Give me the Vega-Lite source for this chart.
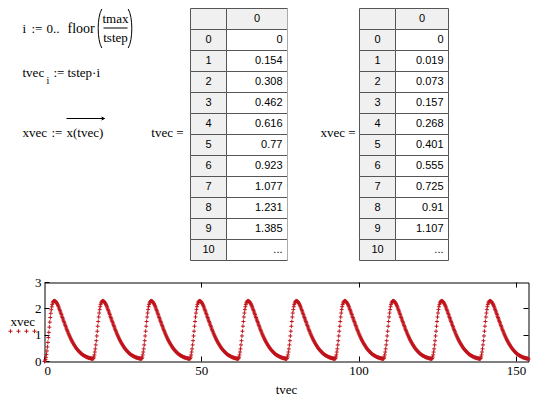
{
"$schema":"https://vega.github.io/schema/vega-lite/v6.json",
"background":"white",
"padding":{"left":0.5,"top":6.5,"right":0,"bottom":0},
"spacing":14,
"config":{"view":{"stroke":null,"fill":"white"},"axis":{"translate":0},"text":{"font":"Liberation Serif","fontSize":13,"color":"black","baseline":"middle"}},
"vconcat":[
{"hconcat":[
{
"width":190,"height":252,
"data":{"values":[{}]},
"layer":[
{"mark":{"type":"text","text":"i","align":"left"},"encoding":{"x":{"datum":22,"type":"quantitative","scale":{"domain":[0,190],"nice":false,"zero":false},"axis":null},"y":{"datum":20,"type":"quantitative","scale":{"domain":[252,0],"nice":false,"zero":false},"axis":null}}},
{"mark":{"type":"text","text":":=","align":"left"},"encoding":{"x":{"datum":31,"type":"quantitative","axis":null},"y":{"datum":20,"type":"quantitative","axis":null}}},
{"mark":{"type":"text","text":"0..","align":"left"},"encoding":{"x":{"datum":46,"type":"quantitative","axis":null},"y":{"datum":20,"type":"quantitative","axis":null}}},
{"mark":{"type":"text","text":"floor","align":"left","fontSize":14},"encoding":{"x":{"datum":67,"type":"quantitative","axis":null},"y":{"datum":20,"type":"quantitative","axis":null}}},
{"mark":{"type":"point","shape":"M0.12,-1C-0.13,-0.6,-0.13,0.6,0.12,1","filled":false,"size":1521,"stroke":"black","strokeWidth":1,"opacity":1},"encoding":{"x":{"datum":99,"type":"quantitative","axis":null},"y":{"datum":20,"type":"quantitative","axis":null}}},
{"mark":{"type":"text","text":"tmax","align":"center"},"encoding":{"x":{"datum":115,"type":"quantitative","axis":null},"y":{"datum":10,"type":"quantitative","axis":null}}},
{"mark":{"type":"rule","color":"black","strokeWidth":1},"encoding":{"x":{"datum":103,"type":"quantitative","axis":null},"x2":{"datum":127},"y":{"datum":19.5,"type":"quantitative","axis":null}}},
{"mark":{"type":"text","text":"tstep","align":"center"},"encoding":{"x":{"datum":115,"type":"quantitative","axis":null},"y":{"datum":29,"type":"quantitative","axis":null}}},
{"mark":{"type":"point","shape":"M-0.12,-1C0.13,-0.6,0.13,0.6,-0.12,1","filled":false,"size":1521,"stroke":"black","strokeWidth":1,"opacity":1},"encoding":{"x":{"datum":130,"type":"quantitative","axis":null},"y":{"datum":20,"type":"quantitative","axis":null}}},
{"mark":{"type":"text","text":"tvec","align":"left"},"encoding":{"x":{"datum":22,"type":"quantitative","axis":null},"y":{"datum":64,"type":"quantitative","axis":null}}},
{"mark":{"type":"text","text":"i","align":"left","fontSize":10},"encoding":{"x":{"datum":46,"type":"quantitative","axis":null},"y":{"datum":72,"type":"quantitative","axis":null}}},
{"mark":{"type":"text","text":":=","align":"left"},"encoding":{"x":{"datum":53,"type":"quantitative","axis":null},"y":{"datum":64,"type":"quantitative","axis":null}}},
{"mark":{"type":"text","text":"tstep·i","align":"left"},"encoding":{"x":{"datum":67,"type":"quantitative","axis":null},"y":{"datum":64,"type":"quantitative","axis":null}}},
{"mark":{"type":"text","text":"xvec","align":"left"},"encoding":{"x":{"datum":22,"type":"quantitative","axis":null},"y":{"datum":124,"type":"quantitative","axis":null}}},
{"mark":{"type":"text","text":":=","align":"left"},"encoding":{"x":{"datum":51,"type":"quantitative","axis":null},"y":{"datum":124,"type":"quantitative","axis":null}}},
{"mark":{"type":"text","text":"x(tvec)","align":"left"},"encoding":{"x":{"datum":66,"type":"quantitative","axis":null},"y":{"datum":124,"type":"quantitative","axis":null}}},
{"mark":{"type":"rule","color":"black","strokeWidth":1},"encoding":{"x":{"datum":66,"type":"quantitative","axis":null},"x2":{"datum":104},"y":{"datum":110,"type":"quantitative","axis":null}}},
{"mark":{"type":"point","shape":"M-1,-0.5L0,0L-1,0.5","filled":false,"size":36,"stroke":"black","strokeWidth":1,"opacity":1},"encoding":{"x":{"datum":104,"type":"quantitative","axis":null},"y":{"datum":110,"type":"quantitative","axis":null}}},
{"mark":{"type":"text","text":"tvec =","align":"right"},"encoding":{"x":{"datum":183,"type":"quantitative","axis":null},"y":{"datum":124,"type":"quantitative","axis":null}}}
]
},
{
"width":97,"height":252,
"data":{"values":[{"r":"h","i":"","v":"0"},{"r":"0","i":"0","v":"0"},{"r":"1","i":"1","v":"0.154"},{"r":"2","i":"2","v":"0.308"},{"r":"3","i":"3","v":"0.462"},{"r":"4","i":"4","v":"0.616"},{"r":"5","i":"5","v":"0.77"},{"r":"6","i":"6","v":"0.923"},{"r":"7","i":"7","v":"1.077"},{"r":"8","i":"8","v":"1.231"},{"r":"9","i":"9","v":"1.385"},{"r":"10","i":"10","v":"..."}]},
"encoding":{"y":{"field":"r","type":"ordinal","scale":{"type":"band","domain":["h","0","1","2","3","4","5","6","7","8","9","10"],"paddingInner":0,"paddingOuter":0},"axis":null}},
"layer":[
{"mark":{"type":"rect","fill":"#f0f0f0","stroke":"#555555","strokeWidth":1},"encoding":{"x":{"datum":0,"type":"quantitative","scale":{"domain":[0,97],"nice":false,"zero":false},"axis":null},"x2":{"datum":36}}},
{"mark":{"type":"rect","stroke":"#555555","strokeWidth":1},"encoding":{"x":{"datum":36,"type":"quantitative","axis":null},"x2":{"datum":97},"fill":{"condition":{"test":"datum.r==='h'","value":"#f0f0f0"},"value":"white"}}},
{"mark":{"type":"text","font":"Liberation Sans","fontSize":11,"align":"center"},"encoding":{"x":{"datum":18,"type":"quantitative","axis":null},"text":{"field":"i"}}},
{"transform":[{"filter":"datum.r==='h'"}],"mark":{"type":"text","font":"Liberation Sans","fontSize":11,"align":"center"},"encoding":{"x":{"datum":66.5,"type":"quantitative","axis":null},"text":{"field":"v"}}},
{"transform":[{"filter":"datum.r!=='h'"}],"mark":{"type":"text","font":"Liberation Sans","fontSize":11,"align":"right","dx":-5},"encoding":{"x":{"datum":97,"type":"quantitative","axis":null},"text":{"field":"v"}}}
]
},
{
"width":72,"height":252,
"data":{"values":[{}]},
"mark":{"type":"text","text":"xvec =","align":"right"},
"encoding":{"x":{"datum":68,"type":"quantitative","scale":{"domain":[0,72],"nice":false,"zero":false},"axis":null},"y":{"datum":124,"type":"quantitative","scale":{"domain":[252,0],"nice":false,"zero":false},"axis":null}}
},
{
"width":89,"height":252,
"data":{"values":[{"r":"h","i":"","v":"0"},{"r":"0","i":"0","v":"0"},{"r":"1","i":"1","v":"0.019"},{"r":"2","i":"2","v":"0.073"},{"r":"3","i":"3","v":"0.157"},{"r":"4","i":"4","v":"0.268"},{"r":"5","i":"5","v":"0.401"},{"r":"6","i":"6","v":"0.555"},{"r":"7","i":"7","v":"0.725"},{"r":"8","i":"8","v":"0.91"},{"r":"9","i":"9","v":"1.107"},{"r":"10","i":"10","v":"..."}]},
"encoding":{"y":{"field":"r","type":"ordinal","scale":{"type":"band","domain":["h","0","1","2","3","4","5","6","7","8","9","10"],"paddingInner":0,"paddingOuter":0},"axis":null}},
"layer":[
{"mark":{"type":"rect","fill":"#f0f0f0","stroke":"#555555","strokeWidth":1},"encoding":{"x":{"datum":0,"type":"quantitative","scale":{"domain":[0,89],"nice":false,"zero":false},"axis":null},"x2":{"datum":36}}},
{"mark":{"type":"rect","stroke":"#555555","strokeWidth":1},"encoding":{"x":{"datum":36,"type":"quantitative","axis":null},"x2":{"datum":89},"fill":{"condition":{"test":"datum.r==='h'","value":"#f0f0f0"},"value":"white"}}},
{"mark":{"type":"text","font":"Liberation Sans","fontSize":11,"align":"center"},"encoding":{"x":{"datum":18,"type":"quantitative","axis":null},"text":{"field":"i"}}},
{"transform":[{"filter":"datum.r==='h'"}],"mark":{"type":"text","font":"Liberation Sans","fontSize":11,"align":"center"},"encoding":{"x":{"datum":62.5,"type":"quantitative","axis":null},"text":{"field":"v"}}},
{"transform":[{"filter":"datum.r!=='h'"}],"mark":{"type":"text","font":"Liberation Sans","fontSize":11,"align":"right","dx":-5},"encoding":{"x":{"datum":89,"type":"quantitative","axis":null},"text":{"field":"v"}}}
]
}
],"spacing":0,"bounds":"flush"},
{"hconcat":[
{
"width":44,"height":79,
"layer":[
{"data":{"values":[{"s":"xvec"}]},"mark":{"type":"text","align":"left"},"encoding":{"x":{"datum":1,"type":"quantitative","scale":{"domain":[-0.25,5.25],"nice":false,"zero":false},"axis":null},"y":{"datum":1.5,"type":"quantitative","scale":{"domain":[0,3],"nice":false,"zero":false},"axis":null},"text":{"field":"s"}}},
{"data":{"values":[{"k":1},{"k":2},{"k":3},{"k":4}]},"mark":{"type":"point","shape":"M-1,0H1M0,-1V1","filled":false,"size":16,"stroke":"#c0141c","strokeWidth":1,"opacity":1},"encoding":{"x":{"field":"k","type":"quantitative","axis":null},"y":{"datum":1.15,"type":"quantitative","axis":null}}}
]
},
{
"width":484,"height":79,
"view":{"stroke":"black","strokeWidth":1,"fill":"white"},
"data":{"values":[
{"t":0,"x":0},{"t":0.15,"x":0.019},{"t":0.31,"x":0.073},{"t":0.46,"x":0.157},{"t":0.62,"x":0.268},{"t":0.77,"x":0.401},{"t":0.92,"x":0.555},{"t":1.08,"x":0.725},{"t":1.23,"x":0.91},{"t":1.38,"x":1.107},
{"t":1.54,"x":1.305},{"t":1.69,"x":1.495},{"t":1.85,"x":1.67},{"t":2,"x":1.83},{"t":2.15,"x":1.965},{"t":2.31,"x":2.075},{"t":2.46,"x":2.16},{"t":2.62,"x":2.225},{"t":2.77,"x":2.27},{"t":2.92,"x":2.295},
{"t":3.08,"x":2.305},{"t":3.23,"x":2.3},{"t":3.38,"x":2.29},{"t":3.54,"x":2.28},{"t":3.69,"x":2.26},{"t":3.85,"x":2.23},{"t":4,"x":2.2},{"t":4.15,"x":2.16},{"t":4.31,"x":2.12},{"t":4.46,"x":2.08},
{"t":4.62,"x":2.03},{"t":4.77,"x":1.98},{"t":4.92,"x":1.93},{"t":5.08,"x":1.88},{"t":5.23,"x":1.83},{"t":5.38,"x":1.78},{"t":5.54,"x":1.72},{"t":5.69,"x":1.67},{"t":5.85,"x":1.62},{"t":6,"x":1.57},
{"t":6.15,"x":1.52},{"t":6.31,"x":1.47},{"t":6.46,"x":1.42},{"t":6.62,"x":1.37},{"t":6.77,"x":1.32},{"t":6.92,"x":1.27},{"t":7.08,"x":1.22},{"t":7.23,"x":1.17},{"t":7.38,"x":1.13},{"t":7.54,"x":1.08},
{"t":7.69,"x":1.04},{"t":7.85,"x":1},{"t":8,"x":0.96},{"t":8.15,"x":0.92},{"t":8.31,"x":0.88},{"t":8.46,"x":0.84},{"t":8.62,"x":0.8},{"t":8.77,"x":0.77},{"t":8.92,"x":0.73},{"t":9.08,"x":0.7},
{"t":9.23,"x":0.67},{"t":9.38,"x":0.64},{"t":9.54,"x":0.61},{"t":9.69,"x":0.58},{"t":9.85,"x":0.55},{"t":10,"x":0.52},{"t":10.15,"x":0.5},{"t":10.31,"x":0.47},{"t":10.46,"x":0.45},{"t":10.62,"x":0.43},
{"t":10.77,"x":0.41},{"t":10.92,"x":0.39},{"t":11.08,"x":0.37},{"t":11.23,"x":0.35},{"t":11.38,"x":0.33},{"t":11.54,"x":0.31},{"t":11.69,"x":0.3},{"t":11.85,"x":0.28},{"t":12,"x":0.27},{"t":12.15,"x":0.25},
{"t":12.31,"x":0.24},{"t":12.46,"x":0.23},{"t":12.62,"x":0.22},{"t":12.77,"x":0.21},{"t":12.92,"x":0.2},{"t":13.08,"x":0.19},{"t":13.23,"x":0.18},{"t":13.38,"x":0.17},{"t":13.54,"x":0.16},{"t":13.69,"x":0.16},
{"t":13.85,"x":0.15},{"t":14,"x":0.14},{"t":14.15,"x":0.14},{"t":14.31,"x":0.13},{"t":14.46,"x":0.13},{"t":14.62,"x":0.12},{"t":14.77,"x":0.12},{"t":14.92,"x":0.11},{"t":15.08,"x":0.11},{"t":15.23,"x":0.1},
{"t":15.38,"x":0.1},{"t":15.54,"x":0.12},{"t":15.69,"x":0.17},{"t":15.85,"x":0.25},{"t":16,"x":0.36},{"t":16.15,"x":0.48},{"t":16.31,"x":0.63},{"t":16.46,"x":0.79},{"t":16.62,"x":0.97},{"t":16.77,"x":1.15},
{"t":16.92,"x":1.34},{"t":17.08,"x":1.52},{"t":17.23,"x":1.69},{"t":17.38,"x":1.84},{"t":17.54,"x":1.97},{"t":17.69,"x":2.08},{"t":17.85,"x":2.16},{"t":18,"x":2.22},{"t":18.15,"x":2.26},{"t":18.31,"x":2.29},
{"t":18.46,"x":2.3},{"t":18.62,"x":2.3},{"t":18.77,"x":2.29},{"t":18.92,"x":2.28},{"t":19.08,"x":2.26},{"t":19.23,"x":2.23},{"t":19.38,"x":2.2},{"t":19.54,"x":2.16},{"t":19.69,"x":2.12},{"t":19.85,"x":2.08},
{"t":20,"x":2.03},{"t":20.15,"x":1.98},{"t":20.31,"x":1.93},{"t":20.46,"x":1.88},{"t":20.62,"x":1.83},{"t":20.77,"x":1.78},{"t":20.92,"x":1.72},{"t":21.08,"x":1.67},{"t":21.23,"x":1.62},{"t":21.38,"x":1.57},
{"t":21.54,"x":1.52},{"t":21.69,"x":1.47},{"t":21.85,"x":1.42},{"t":22,"x":1.37},{"t":22.15,"x":1.32},{"t":22.31,"x":1.27},{"t":22.46,"x":1.22},{"t":22.62,"x":1.17},{"t":22.77,"x":1.13},{"t":22.92,"x":1.08},
{"t":23.08,"x":1.04},{"t":23.23,"x":1},{"t":23.38,"x":0.96},{"t":23.54,"x":0.92},{"t":23.69,"x":0.88},{"t":23.85,"x":0.84},{"t":24,"x":0.8},{"t":24.15,"x":0.77},{"t":24.31,"x":0.73},{"t":24.46,"x":0.7},
{"t":24.62,"x":0.67},{"t":24.77,"x":0.64},{"t":24.92,"x":0.61},{"t":25.08,"x":0.58},{"t":25.23,"x":0.55},{"t":25.38,"x":0.52},{"t":25.54,"x":0.5},{"t":25.69,"x":0.47},{"t":25.85,"x":0.45},{"t":26,"x":0.43},
{"t":26.15,"x":0.41},{"t":26.31,"x":0.39},{"t":26.46,"x":0.37},{"t":26.62,"x":0.35},{"t":26.77,"x":0.33},{"t":26.92,"x":0.31},{"t":27.08,"x":0.3},{"t":27.23,"x":0.28},{"t":27.38,"x":0.27},{"t":27.54,"x":0.25},
{"t":27.69,"x":0.24},{"t":27.85,"x":0.23},{"t":28,"x":0.22},{"t":28.15,"x":0.21},{"t":28.31,"x":0.2},{"t":28.46,"x":0.19},{"t":28.62,"x":0.18},{"t":28.77,"x":0.17},{"t":28.92,"x":0.16},{"t":29.08,"x":0.16},
{"t":29.23,"x":0.15},{"t":29.38,"x":0.14},{"t":29.54,"x":0.14},{"t":29.69,"x":0.13},{"t":29.85,"x":0.13},{"t":30,"x":0.12},{"t":30.15,"x":0.12},{"t":30.31,"x":0.11},{"t":30.46,"x":0.11},{"t":30.62,"x":0.1},
{"t":30.77,"x":0.1},{"t":30.92,"x":0.12},{"t":31.08,"x":0.17},{"t":31.23,"x":0.25},{"t":31.38,"x":0.36},{"t":31.54,"x":0.48},{"t":31.69,"x":0.63},{"t":31.85,"x":0.79},{"t":32,"x":0.97},{"t":32.15,"x":1.15},
{"t":32.31,"x":1.34},{"t":32.46,"x":1.52},{"t":32.62,"x":1.69},{"t":32.77,"x":1.84},{"t":32.92,"x":1.97},{"t":33.08,"x":2.08},{"t":33.23,"x":2.16},{"t":33.38,"x":2.22},{"t":33.54,"x":2.26},{"t":33.69,"x":2.29},
{"t":33.85,"x":2.3},{"t":34,"x":2.3},{"t":34.15,"x":2.29},{"t":34.31,"x":2.28},{"t":34.46,"x":2.26},{"t":34.62,"x":2.23},{"t":34.77,"x":2.2},{"t":34.92,"x":2.16},{"t":35.08,"x":2.12},{"t":35.23,"x":2.08},
{"t":35.38,"x":2.03},{"t":35.54,"x":1.98},{"t":35.69,"x":1.93},{"t":35.85,"x":1.88},{"t":36,"x":1.83},{"t":36.15,"x":1.78},{"t":36.31,"x":1.72},{"t":36.46,"x":1.67},{"t":36.62,"x":1.62},{"t":36.77,"x":1.57},
{"t":36.92,"x":1.52},{"t":37.08,"x":1.47},{"t":37.23,"x":1.42},{"t":37.38,"x":1.37},{"t":37.54,"x":1.32},{"t":37.69,"x":1.27},{"t":37.85,"x":1.22},{"t":38,"x":1.17},{"t":38.15,"x":1.13},{"t":38.31,"x":1.08},
{"t":38.46,"x":1.04},{"t":38.62,"x":1},{"t":38.77,"x":0.96},{"t":38.92,"x":0.92},{"t":39.08,"x":0.88},{"t":39.23,"x":0.84},{"t":39.38,"x":0.8},{"t":39.54,"x":0.77},{"t":39.69,"x":0.73},{"t":39.85,"x":0.7},
{"t":40,"x":0.67},{"t":40.15,"x":0.64},{"t":40.31,"x":0.61},{"t":40.46,"x":0.58},{"t":40.62,"x":0.55},{"t":40.77,"x":0.52},{"t":40.92,"x":0.5},{"t":41.08,"x":0.47},{"t":41.23,"x":0.45},{"t":41.38,"x":0.43},
{"t":41.54,"x":0.41},{"t":41.69,"x":0.39},{"t":41.85,"x":0.37},{"t":42,"x":0.35},{"t":42.15,"x":0.33},{"t":42.31,"x":0.31},{"t":42.46,"x":0.3},{"t":42.62,"x":0.28},{"t":42.77,"x":0.27},{"t":42.92,"x":0.25},
{"t":43.08,"x":0.24},{"t":43.23,"x":0.23},{"t":43.38,"x":0.22},{"t":43.54,"x":0.21},{"t":43.69,"x":0.2},{"t":43.85,"x":0.19},{"t":44,"x":0.18},{"t":44.15,"x":0.17},{"t":44.31,"x":0.16},{"t":44.46,"x":0.16},
{"t":44.62,"x":0.15},{"t":44.77,"x":0.14},{"t":44.92,"x":0.14},{"t":45.08,"x":0.13},{"t":45.23,"x":0.13},{"t":45.38,"x":0.12},{"t":45.54,"x":0.12},{"t":45.69,"x":0.11},{"t":45.85,"x":0.11},{"t":46,"x":0.1},
{"t":46.15,"x":0.1},{"t":46.31,"x":0.12},{"t":46.46,"x":0.17},{"t":46.62,"x":0.25},{"t":46.77,"x":0.36},{"t":46.92,"x":0.48},{"t":47.08,"x":0.63},{"t":47.23,"x":0.79},{"t":47.38,"x":0.97},{"t":47.54,"x":1.15},
{"t":47.69,"x":1.34},{"t":47.85,"x":1.52},{"t":48,"x":1.69},{"t":48.15,"x":1.84},{"t":48.31,"x":1.97},{"t":48.46,"x":2.08},{"t":48.62,"x":2.16},{"t":48.77,"x":2.22},{"t":48.92,"x":2.26},{"t":49.08,"x":2.29},
{"t":49.23,"x":2.3},{"t":49.38,"x":2.3},{"t":49.54,"x":2.29},{"t":49.69,"x":2.28},{"t":49.85,"x":2.26},{"t":50,"x":2.23},{"t":50.15,"x":2.2},{"t":50.31,"x":2.16},{"t":50.46,"x":2.12},{"t":50.62,"x":2.08},
{"t":50.77,"x":2.03},{"t":50.92,"x":1.98},{"t":51.08,"x":1.93},{"t":51.23,"x":1.88},{"t":51.38,"x":1.83},{"t":51.54,"x":1.78},{"t":51.69,"x":1.72},{"t":51.85,"x":1.67},{"t":52,"x":1.62},{"t":52.15,"x":1.57},
{"t":52.31,"x":1.52},{"t":52.46,"x":1.47},{"t":52.62,"x":1.42},{"t":52.77,"x":1.37},{"t":52.92,"x":1.32},{"t":53.08,"x":1.27},{"t":53.23,"x":1.22},{"t":53.38,"x":1.17},{"t":53.54,"x":1.13},{"t":53.69,"x":1.08},
{"t":53.85,"x":1.04},{"t":54,"x":1},{"t":54.15,"x":0.96},{"t":54.31,"x":0.92},{"t":54.46,"x":0.88},{"t":54.62,"x":0.84},{"t":54.77,"x":0.8},{"t":54.92,"x":0.77},{"t":55.08,"x":0.73},{"t":55.23,"x":0.7},
{"t":55.38,"x":0.67},{"t":55.54,"x":0.64},{"t":55.69,"x":0.61},{"t":55.85,"x":0.58},{"t":56,"x":0.55},{"t":56.15,"x":0.52},{"t":56.31,"x":0.5},{"t":56.46,"x":0.47},{"t":56.62,"x":0.45},{"t":56.77,"x":0.43},
{"t":56.92,"x":0.41},{"t":57.08,"x":0.39},{"t":57.23,"x":0.37},{"t":57.38,"x":0.35},{"t":57.54,"x":0.33},{"t":57.69,"x":0.31},{"t":57.85,"x":0.3},{"t":58,"x":0.28},{"t":58.15,"x":0.27},{"t":58.31,"x":0.25},
{"t":58.46,"x":0.24},{"t":58.62,"x":0.23},{"t":58.77,"x":0.22},{"t":58.92,"x":0.21},{"t":59.08,"x":0.2},{"t":59.23,"x":0.19},{"t":59.38,"x":0.18},{"t":59.54,"x":0.17},{"t":59.69,"x":0.16},{"t":59.85,"x":0.16},
{"t":60,"x":0.15},{"t":60.15,"x":0.14},{"t":60.31,"x":0.14},{"t":60.46,"x":0.13},{"t":60.62,"x":0.13},{"t":60.77,"x":0.12},{"t":60.92,"x":0.12},{"t":61.08,"x":0.11},{"t":61.23,"x":0.11},{"t":61.38,"x":0.1},
{"t":61.54,"x":0.1},{"t":61.69,"x":0.12},{"t":61.85,"x":0.17},{"t":62,"x":0.25},{"t":62.15,"x":0.36},{"t":62.31,"x":0.48},{"t":62.46,"x":0.63},{"t":62.62,"x":0.79},{"t":62.77,"x":0.97},{"t":62.92,"x":1.15},
{"t":63.08,"x":1.34},{"t":63.23,"x":1.52},{"t":63.38,"x":1.69},{"t":63.54,"x":1.84},{"t":63.69,"x":1.97},{"t":63.85,"x":2.08},{"t":64,"x":2.16},{"t":64.15,"x":2.22},{"t":64.31,"x":2.26},{"t":64.46,"x":2.29},
{"t":64.62,"x":2.3},{"t":64.77,"x":2.3},{"t":64.92,"x":2.29},{"t":65.08,"x":2.28},{"t":65.23,"x":2.26},{"t":65.38,"x":2.23},{"t":65.54,"x":2.2},{"t":65.69,"x":2.16},{"t":65.85,"x":2.12},{"t":66,"x":2.08},
{"t":66.15,"x":2.03},{"t":66.31,"x":1.98},{"t":66.46,"x":1.93},{"t":66.62,"x":1.88},{"t":66.77,"x":1.83},{"t":66.92,"x":1.78},{"t":67.08,"x":1.72},{"t":67.23,"x":1.67},{"t":67.38,"x":1.62},{"t":67.54,"x":1.57},
{"t":67.69,"x":1.52},{"t":67.85,"x":1.47},{"t":68,"x":1.42},{"t":68.15,"x":1.37},{"t":68.31,"x":1.32},{"t":68.46,"x":1.27},{"t":68.62,"x":1.22},{"t":68.77,"x":1.17},{"t":68.92,"x":1.13},{"t":69.08,"x":1.08},
{"t":69.23,"x":1.04},{"t":69.38,"x":1},{"t":69.54,"x":0.96},{"t":69.69,"x":0.92},{"t":69.85,"x":0.88},{"t":70,"x":0.84},{"t":70.15,"x":0.8},{"t":70.31,"x":0.77},{"t":70.46,"x":0.73},{"t":70.62,"x":0.7},
{"t":70.77,"x":0.67},{"t":70.92,"x":0.64},{"t":71.08,"x":0.61},{"t":71.23,"x":0.58},{"t":71.38,"x":0.55},{"t":71.54,"x":0.52},{"t":71.69,"x":0.5},{"t":71.85,"x":0.47},{"t":72,"x":0.45},{"t":72.15,"x":0.43},
{"t":72.31,"x":0.41},{"t":72.46,"x":0.39},{"t":72.62,"x":0.37},{"t":72.77,"x":0.35},{"t":72.92,"x":0.33},{"t":73.08,"x":0.31},{"t":73.23,"x":0.3},{"t":73.38,"x":0.28},{"t":73.54,"x":0.27},{"t":73.69,"x":0.25},
{"t":73.85,"x":0.24},{"t":74,"x":0.23},{"t":74.15,"x":0.22},{"t":74.31,"x":0.21},{"t":74.46,"x":0.2},{"t":74.62,"x":0.19},{"t":74.77,"x":0.18},{"t":74.92,"x":0.17},{"t":75.08,"x":0.16},{"t":75.23,"x":0.16},
{"t":75.38,"x":0.15},{"t":75.54,"x":0.14},{"t":75.69,"x":0.14},{"t":75.85,"x":0.13},{"t":76,"x":0.13},{"t":76.15,"x":0.12},{"t":76.31,"x":0.12},{"t":76.46,"x":0.11},{"t":76.62,"x":0.11},{"t":76.77,"x":0.1},
{"t":76.92,"x":0.1},{"t":77.08,"x":0.12},{"t":77.23,"x":0.17},{"t":77.38,"x":0.25},{"t":77.54,"x":0.36},{"t":77.69,"x":0.48},{"t":77.85,"x":0.63},{"t":78,"x":0.79},{"t":78.15,"x":0.97},{"t":78.31,"x":1.15},
{"t":78.46,"x":1.34},{"t":78.62,"x":1.52},{"t":78.77,"x":1.69},{"t":78.92,"x":1.84},{"t":79.08,"x":1.97},{"t":79.23,"x":2.08},{"t":79.38,"x":2.16},{"t":79.54,"x":2.22},{"t":79.69,"x":2.26},{"t":79.85,"x":2.29},
{"t":80,"x":2.3},{"t":80.15,"x":2.3},{"t":80.31,"x":2.29},{"t":80.46,"x":2.28},{"t":80.62,"x":2.26},{"t":80.77,"x":2.23},{"t":80.92,"x":2.2},{"t":81.08,"x":2.16},{"t":81.23,"x":2.12},{"t":81.38,"x":2.08},
{"t":81.54,"x":2.03},{"t":81.69,"x":1.98},{"t":81.85,"x":1.93},{"t":82,"x":1.88},{"t":82.15,"x":1.83},{"t":82.31,"x":1.78},{"t":82.46,"x":1.72},{"t":82.62,"x":1.67},{"t":82.77,"x":1.62},{"t":82.92,"x":1.57},
{"t":83.08,"x":1.52},{"t":83.23,"x":1.47},{"t":83.38,"x":1.42},{"t":83.54,"x":1.37},{"t":83.69,"x":1.32},{"t":83.85,"x":1.27},{"t":84,"x":1.22},{"t":84.15,"x":1.17},{"t":84.31,"x":1.13},{"t":84.46,"x":1.08},
{"t":84.62,"x":1.04},{"t":84.77,"x":1},{"t":84.92,"x":0.96},{"t":85.08,"x":0.92},{"t":85.23,"x":0.88},{"t":85.38,"x":0.84},{"t":85.54,"x":0.8},{"t":85.69,"x":0.77},{"t":85.85,"x":0.73},{"t":86,"x":0.7},
{"t":86.15,"x":0.67},{"t":86.31,"x":0.64},{"t":86.46,"x":0.61},{"t":86.62,"x":0.58},{"t":86.77,"x":0.55},{"t":86.92,"x":0.52},{"t":87.08,"x":0.5},{"t":87.23,"x":0.47},{"t":87.38,"x":0.45},{"t":87.54,"x":0.43},
{"t":87.69,"x":0.41},{"t":87.85,"x":0.39},{"t":88,"x":0.37},{"t":88.15,"x":0.35},{"t":88.31,"x":0.33},{"t":88.46,"x":0.31},{"t":88.62,"x":0.3},{"t":88.77,"x":0.28},{"t":88.92,"x":0.27},{"t":89.08,"x":0.25},
{"t":89.23,"x":0.24},{"t":89.38,"x":0.23},{"t":89.54,"x":0.22},{"t":89.69,"x":0.21},{"t":89.85,"x":0.2},{"t":90,"x":0.19},{"t":90.15,"x":0.18},{"t":90.31,"x":0.17},{"t":90.46,"x":0.16},{"t":90.62,"x":0.16},
{"t":90.77,"x":0.15},{"t":90.92,"x":0.14},{"t":91.08,"x":0.14},{"t":91.23,"x":0.13},{"t":91.38,"x":0.13},{"t":91.54,"x":0.12},{"t":91.69,"x":0.12},{"t":91.85,"x":0.11},{"t":92,"x":0.11},{"t":92.15,"x":0.1},
{"t":92.31,"x":0.1},{"t":92.46,"x":0.12},{"t":92.62,"x":0.17},{"t":92.77,"x":0.25},{"t":92.92,"x":0.36},{"t":93.08,"x":0.48},{"t":93.23,"x":0.63},{"t":93.38,"x":0.79},{"t":93.54,"x":0.97},{"t":93.69,"x":1.15},
{"t":93.85,"x":1.34},{"t":94,"x":1.52},{"t":94.15,"x":1.69},{"t":94.31,"x":1.84},{"t":94.46,"x":1.97},{"t":94.62,"x":2.08},{"t":94.77,"x":2.16},{"t":94.92,"x":2.22},{"t":95.08,"x":2.26},{"t":95.23,"x":2.29},
{"t":95.38,"x":2.3},{"t":95.54,"x":2.3},{"t":95.69,"x":2.29},{"t":95.85,"x":2.28},{"t":96,"x":2.26},{"t":96.15,"x":2.23},{"t":96.31,"x":2.2},{"t":96.46,"x":2.16},{"t":96.62,"x":2.12},{"t":96.77,"x":2.08},
{"t":96.92,"x":2.03},{"t":97.08,"x":1.98},{"t":97.23,"x":1.93},{"t":97.38,"x":1.88},{"t":97.54,"x":1.83},{"t":97.69,"x":1.78},{"t":97.85,"x":1.72},{"t":98,"x":1.67},{"t":98.15,"x":1.62},{"t":98.31,"x":1.57},
{"t":98.46,"x":1.52},{"t":98.62,"x":1.47},{"t":98.77,"x":1.42},{"t":98.92,"x":1.37},{"t":99.08,"x":1.32},{"t":99.23,"x":1.27},{"t":99.38,"x":1.22},{"t":99.54,"x":1.17},{"t":99.69,"x":1.13},{"t":99.85,"x":1.08},
{"t":100,"x":1.04},{"t":100.15,"x":1},{"t":100.31,"x":0.96},{"t":100.46,"x":0.92},{"t":100.62,"x":0.88},{"t":100.77,"x":0.84},{"t":100.92,"x":0.8},{"t":101.08,"x":0.77},{"t":101.23,"x":0.73},{"t":101.38,"x":0.7},
{"t":101.54,"x":0.67},{"t":101.69,"x":0.64},{"t":101.85,"x":0.61},{"t":102,"x":0.58},{"t":102.15,"x":0.55},{"t":102.31,"x":0.52},{"t":102.46,"x":0.5},{"t":102.62,"x":0.47},{"t":102.77,"x":0.45},{"t":102.92,"x":0.43},
{"t":103.08,"x":0.41},{"t":103.23,"x":0.39},{"t":103.38,"x":0.37},{"t":103.54,"x":0.35},{"t":103.69,"x":0.33},{"t":103.85,"x":0.31},{"t":104,"x":0.3},{"t":104.15,"x":0.28},{"t":104.31,"x":0.27},{"t":104.46,"x":0.25},
{"t":104.62,"x":0.24},{"t":104.77,"x":0.23},{"t":104.92,"x":0.22},{"t":105.08,"x":0.21},{"t":105.23,"x":0.2},{"t":105.38,"x":0.19},{"t":105.54,"x":0.18},{"t":105.69,"x":0.17},{"t":105.85,"x":0.16},{"t":106,"x":0.16},
{"t":106.15,"x":0.15},{"t":106.31,"x":0.14},{"t":106.46,"x":0.14},{"t":106.62,"x":0.13},{"t":106.77,"x":0.13},{"t":106.92,"x":0.12},{"t":107.08,"x":0.12},{"t":107.23,"x":0.11},{"t":107.38,"x":0.11},{"t":107.54,"x":0.1},
{"t":107.69,"x":0.1},{"t":107.85,"x":0.12},{"t":108,"x":0.17},{"t":108.15,"x":0.25},{"t":108.31,"x":0.36},{"t":108.46,"x":0.48},{"t":108.62,"x":0.63},{"t":108.77,"x":0.79},{"t":108.92,"x":0.97},{"t":109.08,"x":1.15},
{"t":109.23,"x":1.34},{"t":109.38,"x":1.52},{"t":109.54,"x":1.69},{"t":109.69,"x":1.84},{"t":109.85,"x":1.97},{"t":110,"x":2.08},{"t":110.15,"x":2.16},{"t":110.31,"x":2.22},{"t":110.46,"x":2.26},{"t":110.62,"x":2.29},
{"t":110.77,"x":2.3},{"t":110.92,"x":2.3},{"t":111.08,"x":2.29},{"t":111.23,"x":2.28},{"t":111.38,"x":2.26},{"t":111.54,"x":2.23},{"t":111.69,"x":2.2},{"t":111.85,"x":2.16},{"t":112,"x":2.12},{"t":112.15,"x":2.08},
{"t":112.31,"x":2.03},{"t":112.46,"x":1.98},{"t":112.62,"x":1.93},{"t":112.77,"x":1.88},{"t":112.92,"x":1.83},{"t":113.08,"x":1.78},{"t":113.23,"x":1.72},{"t":113.38,"x":1.67},{"t":113.54,"x":1.62},{"t":113.69,"x":1.57},
{"t":113.85,"x":1.52},{"t":114,"x":1.47},{"t":114.15,"x":1.42},{"t":114.31,"x":1.37},{"t":114.46,"x":1.32},{"t":114.62,"x":1.27},{"t":114.77,"x":1.22},{"t":114.92,"x":1.17},{"t":115.08,"x":1.13},{"t":115.23,"x":1.08},
{"t":115.38,"x":1.04},{"t":115.54,"x":1},{"t":115.69,"x":0.96},{"t":115.85,"x":0.92},{"t":116,"x":0.88},{"t":116.15,"x":0.84},{"t":116.31,"x":0.8},{"t":116.46,"x":0.77},{"t":116.62,"x":0.73},{"t":116.77,"x":0.7},
{"t":116.92,"x":0.67},{"t":117.08,"x":0.64},{"t":117.23,"x":0.61},{"t":117.38,"x":0.58},{"t":117.54,"x":0.55},{"t":117.69,"x":0.52},{"t":117.85,"x":0.5},{"t":118,"x":0.47},{"t":118.15,"x":0.45},{"t":118.31,"x":0.43},
{"t":118.46,"x":0.41},{"t":118.62,"x":0.39},{"t":118.77,"x":0.37},{"t":118.92,"x":0.35},{"t":119.08,"x":0.33},{"t":119.23,"x":0.31},{"t":119.38,"x":0.3},{"t":119.54,"x":0.28},{"t":119.69,"x":0.27},{"t":119.85,"x":0.25},
{"t":120,"x":0.24},{"t":120.15,"x":0.23},{"t":120.31,"x":0.22},{"t":120.46,"x":0.21},{"t":120.62,"x":0.2},{"t":120.77,"x":0.19},{"t":120.92,"x":0.18},{"t":121.08,"x":0.17},{"t":121.23,"x":0.16},{"t":121.38,"x":0.16},
{"t":121.54,"x":0.15},{"t":121.69,"x":0.14},{"t":121.85,"x":0.14},{"t":122,"x":0.13},{"t":122.15,"x":0.13},{"t":122.31,"x":0.12},{"t":122.46,"x":0.12},{"t":122.62,"x":0.11},{"t":122.77,"x":0.11},{"t":122.92,"x":0.1},
{"t":123.08,"x":0.1},{"t":123.23,"x":0.12},{"t":123.38,"x":0.17},{"t":123.54,"x":0.25},{"t":123.69,"x":0.36},{"t":123.85,"x":0.48},{"t":124,"x":0.63},{"t":124.15,"x":0.79},{"t":124.31,"x":0.97},{"t":124.46,"x":1.15},
{"t":124.62,"x":1.34},{"t":124.77,"x":1.52},{"t":124.92,"x":1.69},{"t":125.08,"x":1.84},{"t":125.23,"x":1.97},{"t":125.38,"x":2.08},{"t":125.54,"x":2.16},{"t":125.69,"x":2.22},{"t":125.85,"x":2.26},{"t":126,"x":2.29},
{"t":126.15,"x":2.3},{"t":126.31,"x":2.3},{"t":126.46,"x":2.29},{"t":126.62,"x":2.28},{"t":126.77,"x":2.26},{"t":126.92,"x":2.23},{"t":127.08,"x":2.2},{"t":127.23,"x":2.16},{"t":127.38,"x":2.12},{"t":127.54,"x":2.08},
{"t":127.69,"x":2.03},{"t":127.85,"x":1.98},{"t":128,"x":1.93},{"t":128.15,"x":1.88},{"t":128.31,"x":1.83},{"t":128.46,"x":1.78},{"t":128.62,"x":1.72},{"t":128.77,"x":1.67},{"t":128.92,"x":1.62},{"t":129.08,"x":1.57},
{"t":129.23,"x":1.52},{"t":129.38,"x":1.47},{"t":129.54,"x":1.42},{"t":129.69,"x":1.37},{"t":129.85,"x":1.32},{"t":130,"x":1.27},{"t":130.15,"x":1.22},{"t":130.31,"x":1.17},{"t":130.46,"x":1.13},{"t":130.62,"x":1.08},
{"t":130.77,"x":1.04},{"t":130.92,"x":1},{"t":131.08,"x":0.96},{"t":131.23,"x":0.92},{"t":131.38,"x":0.88},{"t":131.54,"x":0.84},{"t":131.69,"x":0.8},{"t":131.85,"x":0.77},{"t":132,"x":0.73},{"t":132.15,"x":0.7},
{"t":132.31,"x":0.67},{"t":132.46,"x":0.64},{"t":132.62,"x":0.61},{"t":132.77,"x":0.58},{"t":132.92,"x":0.55},{"t":133.08,"x":0.52},{"t":133.23,"x":0.5},{"t":133.38,"x":0.47},{"t":133.54,"x":0.45},{"t":133.69,"x":0.43},
{"t":133.85,"x":0.41},{"t":134,"x":0.39},{"t":134.15,"x":0.37},{"t":134.31,"x":0.35},{"t":134.46,"x":0.33},{"t":134.62,"x":0.31},{"t":134.77,"x":0.3},{"t":134.92,"x":0.28},{"t":135.08,"x":0.27},{"t":135.23,"x":0.25},
{"t":135.38,"x":0.24},{"t":135.54,"x":0.23},{"t":135.69,"x":0.22},{"t":135.85,"x":0.21},{"t":136,"x":0.2},{"t":136.15,"x":0.19},{"t":136.31,"x":0.18},{"t":136.46,"x":0.17},{"t":136.62,"x":0.16},{"t":136.77,"x":0.16},
{"t":136.92,"x":0.15},{"t":137.08,"x":0.14},{"t":137.23,"x":0.14},{"t":137.38,"x":0.13},{"t":137.54,"x":0.13},{"t":137.69,"x":0.12},{"t":137.85,"x":0.12},{"t":138,"x":0.11},{"t":138.15,"x":0.11},{"t":138.31,"x":0.1},
{"t":138.46,"x":0.1},{"t":138.62,"x":0.12},{"t":138.77,"x":0.17},{"t":138.92,"x":0.25},{"t":139.08,"x":0.36},{"t":139.23,"x":0.48},{"t":139.38,"x":0.63},{"t":139.54,"x":0.79},{"t":139.69,"x":0.97},{"t":139.85,"x":1.15},
{"t":140,"x":1.34},{"t":140.15,"x":1.52},{"t":140.31,"x":1.69},{"t":140.46,"x":1.84},{"t":140.62,"x":1.97},{"t":140.77,"x":2.08},{"t":140.92,"x":2.16},{"t":141.08,"x":2.22},{"t":141.23,"x":2.26},{"t":141.38,"x":2.29},
{"t":141.54,"x":2.3},{"t":141.69,"x":2.3},{"t":141.85,"x":2.29},{"t":142,"x":2.28},{"t":142.15,"x":2.26},{"t":142.31,"x":2.23},{"t":142.46,"x":2.2},{"t":142.62,"x":2.16},{"t":142.77,"x":2.12},{"t":142.92,"x":2.08},
{"t":143.08,"x":2.03},{"t":143.23,"x":1.98},{"t":143.38,"x":1.93},{"t":143.54,"x":1.88},{"t":143.69,"x":1.83},{"t":143.85,"x":1.78},{"t":144,"x":1.72},{"t":144.15,"x":1.67},{"t":144.31,"x":1.62},{"t":144.46,"x":1.57},
{"t":144.62,"x":1.52},{"t":144.77,"x":1.47},{"t":144.92,"x":1.42},{"t":145.08,"x":1.37},{"t":145.23,"x":1.32},{"t":145.38,"x":1.27},{"t":145.54,"x":1.22},{"t":145.69,"x":1.17},{"t":145.85,"x":1.13},{"t":146,"x":1.08},
{"t":146.15,"x":1.04},{"t":146.31,"x":1},{"t":146.46,"x":0.96},{"t":146.62,"x":0.92},{"t":146.77,"x":0.88},{"t":146.92,"x":0.84},{"t":147.08,"x":0.8},{"t":147.23,"x":0.77},{"t":147.38,"x":0.73},{"t":147.54,"x":0.7},
{"t":147.69,"x":0.67},{"t":147.85,"x":0.64},{"t":148,"x":0.61},{"t":148.15,"x":0.58},{"t":148.31,"x":0.55},{"t":148.46,"x":0.52},{"t":148.62,"x":0.5},{"t":148.77,"x":0.47},{"t":148.92,"x":0.45},{"t":149.08,"x":0.43},
{"t":149.23,"x":0.41},{"t":149.38,"x":0.39},{"t":149.54,"x":0.37},{"t":149.69,"x":0.35},{"t":149.85,"x":0.33},{"t":150,"x":0.31},{"t":150.15,"x":0.3},{"t":150.31,"x":0.28},{"t":150.46,"x":0.27},{"t":150.62,"x":0.25},
{"t":150.77,"x":0.24},{"t":150.92,"x":0.23},{"t":151.08,"x":0.22},{"t":151.23,"x":0.21},{"t":151.38,"x":0.2},{"t":151.54,"x":0.19},{"t":151.69,"x":0.18},{"t":151.85,"x":0.17},{"t":152,"x":0.16},{"t":152.15,"x":0.16},
{"t":152.31,"x":0.15},{"t":152.46,"x":0.14},{"t":152.62,"x":0.14},{"t":152.77,"x":0.13},{"t":152.92,"x":0.13},{"t":153.08,"x":0.12},{"t":153.23,"x":0.12},{"t":153.38,"x":0.11},{"t":153.54,"x":0.11},{"t":153.69,"x":0.1},
{"t":153.85,"x":0.1}
]},
"layer":[
{"mark":{"type":"point","shape":"M-1,0H1M0,-1V1","filled":false,"size":16,"stroke":"#c0141c","strokeWidth":1,"opacity":1},
"encoding":{
"x":{"field":"t","type":"quantitative","scale":{"domain":[0,153.85],"nice":false,"zero":false},"axis":{"orient":"bottom","values":[0,50,100,150],"title":"tvec","tickSize":-5,"tickColor":"black","domain":false,"grid":false,"labelFont":"Liberation Serif","labelFontSize":13,"labelColor":"black","labelPadding":8,"titleFont":"Liberation Serif","titleFontSize":13,"titleFontWeight":"normal","titleColor":"black","titlePadding":6}},
"y":{"field":"x","type":"quantitative","scale":{"domain":[0,3],"nice":false,"zero":false},"axis":{"orient":"left","values":[0,1,2,3],"title":null,"tickSize":-5,"tickColor":"black","domain":false,"grid":false,"labelFont":"Liberation Serif","labelFontSize":13,"labelColor":"black","labelPadding":8}}
}},
{"data":{"values":[{"t":0,"x":0}]},"mark":{"type":"point","opacity":0},
"encoding":{
"x":{"field":"t","type":"quantitative","axis":{"orient":"top","values":[50,100,150],"labels":false,"title":null,"tickSize":-5,"tickColor":"black","domain":false,"grid":false}},
"y":{"field":"x","type":"quantitative","axis":{"orient":"right","values":[1,2],"labels":false,"title":null,"tickSize":-5,"tickColor":"black","domain":false,"grid":false}}
}}
],
"resolve":{"axis":{"x":"independent","y":"independent"}}
}
],"spacing":0,"bounds":"flush"}
]
}
